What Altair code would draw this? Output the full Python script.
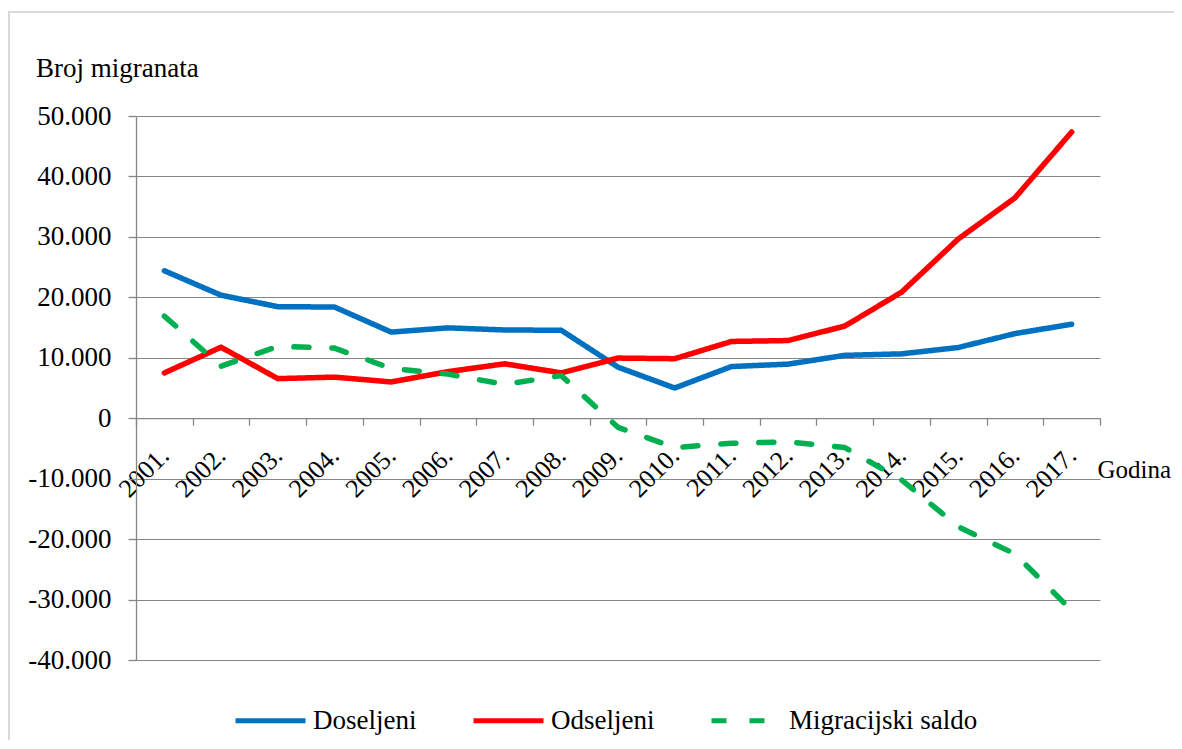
import altair as alt
import pandas as pd

years = ["2001.", "2002.", "2003.", "2004.", "2005.", "2006.", "2007.", "2008.", "2009.",
         "2010.", "2011.", "2012.", "2013.", "2014.", "2015.", "2016.", "2017."]
doseljeni = [24400, 20350, 18450, 18400, 14250, 14950, 14600, 14550, 8450,
             5000, 8550, 8950, 10400, 10650, 11700, 14000, 15550]
odseljeni = [7500, 11750, 6550, 6800, 6000, 7700, 9000, 7500, 9950,
             9850, 12700, 12850, 15250, 20850, 29650, 36450, 47350]
saldo = [16900, 8600, 11900, 11600, 8250, 7300, 5600, 7050, -1500,
         -4850, -4150, -3900, -4850, -10200, -17950, -22450, -31800]

series = ["Doseljeni", "Odseljeni", "Migracijski saldo"]
colors = ["#0070C0", "#FF0000", "#00B050"]
dashes = [[1, 0], [1, 0], [15, 23]]

rows = []
for name, vals in zip(series, [doseljeni, odseljeni, saldo]):
    for y, v in zip(years, vals):
        rows.append({"Godina": y, "Vrijednost": v, "Serija": name})
df = pd.DataFrame(rows)

FONT = "Liberation Serif"
GRAY = "#868686"

legend_opts = dict(orient="none", legendX=97, legendY=567, direction="horizontal",
                   title=None, symbolType="stroke", symbolSize=4900,
                   symbolStrokeWidth=5, labelFontSize=27, labelOffset=5, labelLimit=400,
                   columnPadding=46, padding=0, labelFont=FONT, labelColor="black")

lines = alt.Chart(df).mark_line(strokeWidth=5.5, strokeCap="round", strokeJoin="round").encode(
    x=alt.X("Godina:O", sort=years,
            scale=alt.Scale(type="band", paddingInner=0, paddingOuter=0),
            axis=alt.Axis(title="Godina", labelAngle=-45, labelAlign="right", labelBaseline="middle",
                          labelFontSize=26, labelPadding=26, labelOverlap=False, offset=-241.8,
                          tickBand="extent", tickSize=7, grid=False,
                          labelFont=FONT, titleFont=FONT,
                          titleX=961, titleY=59, titleAlign="left", titleBaseline="alphabetic",
                          titleFontSize=25, titleFontWeight="normal")),
    y=alt.Y("Vrijednost:Q",
            scale=alt.Scale(domain=[-40000, 50000], nice=False, zero=False),
            axis=alt.Axis(values=list(range(-40000, 50001, 10000)),
                          labelExpr="(datum.value < 0 ? '-' : '') + replace(format(abs(datum.value), ','), ',', '.')",
                          labelFontSize=27, labelPadding=17, tickSize=8,
                          labelFont=FONT, title=None)),
    color=alt.Color("Serija:N", sort=series,
                    scale=alt.Scale(domain=series, range=colors),
                    legend=alt.Legend(**legend_opts)),
    strokeDash=alt.StrokeDash("Serija:N", sort=series,
                              scale=alt.Scale(domain=series, range=dashes),
                              legend=alt.Legend(**legend_opts)),
)

border = alt.Chart(pd.DataFrame({"b": [0]})).mark_rect(
    fill=None, stroke="#D9D9D9", strokeWidth=2
).encode(x=alt.value(-127), x2=alt.value(1200), y=alt.value(-104), y2=alt.value(800))

chart = alt.layer(border, lines).properties(
    width=964, height=544,
    autosize=alt.AutoSizeParams(type="none"),
    padding={"left": 128, "top": 108, "right": 74, "bottom": 80},
    background="white",
    title=alt.TitleParams(text="Broj migranata", font=FONT, fontSize=27, fontWeight="normal",
                          color="black", anchor="start", frame="group", orient="top",
                          align="left", baseline="alphabetic", offset=-93, dx=-100),
).configure_view(stroke=None).configure_axis(
    labelFont=FONT, titleFont=FONT, labelColor="black", titleColor="black",
    domainColor=GRAY, tickColor=GRAY, gridColor=GRAY, gridWidth=1, domainWidth=1.3, tickWidth=1.3,
).configure_legend(labelFont=FONT, labelColor="black")

chart.save("out.html", embed_options={"renderer": "svg", "actions": False})
